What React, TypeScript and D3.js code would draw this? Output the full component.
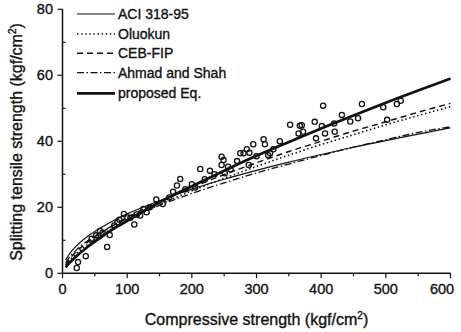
import React from "react";
import * as d3 from "d3";

// Curve sample abscissas (kgf/cm2)
const curveX = [5, 10, 20, 40, 60, 80, 100, 150, 200, 250, 300, 350, 400, 450, 500, 550, 600];
const aciY = [4.0, 5.7, 8.0, 11.4, 13.9, 16.1, 18.0, 22.0, 25.5, 28.5, 31.2, 33.7, 36.0, 38.2, 40.2, 42.2, 44.1];
const oluokunY = [2.4, 3.7, 5.7, 8.9, 11.6, 13.9, 16.0, 20.8, 25.0, 28.8, 32.4, 35.8, 39.0, 42.0, 45.0, 47.8, 50.5];
const cebY = [2.6, 4.1, 6.3, 9.6, 12.3, 14.7, 16.9, 21.8, 26.0, 29.9, 33.5, 36.9, 40.0, 43.1, 45.9, 48.8, 51.5];
const ahmadY = [3.2, 4.7, 6.8, 10.0, 12.5, 14.7, 16.6, 20.6, 24.2, 27.4, 30.4, 33.1, 35.7, 38.2, 40.5, 42.7, 44.4];
const proposedY = [1.8, 3.0, 4.9, 8.2, 11.0, 13.6, 15.9, 21.5, 26.4, 31.1, 35.6, 39.8, 43.9, 47.8, 51.7, 55.4, 59.0];

// Test data (compressive, splitting tensile)
const dataFc = [22, 24, 36, 69, 73, 62, 52, 45, 58, 80, 85, 88, 95, 100, 105, 111, 115, 120, 125, 130, 135,
  145, 155, 165, 171, 177, 182, 190, 200, 205, 213, 220, 228, 235, 246, 246, 249, 251, 256, 260, 270, 275, 280,
  285, 288, 289, 295, 300, 311, 313, 318, 321, 326, 336, 352, 365, 367, 370, 372, 390, 392, 401, 403, 406, 420,
  421, 432, 445, 457, 463, 496, 502, 517, 523];
const dataFsp = [1.6, 3.4, 5.2, 8.0, 11.6, 12.3, 11.5, 10.5, 12.8, 14.5, 15.5, 16.2, 18.0, 17.0, 16.8, 14.8, 17.8, 17.5, 19.5, 18.5, 20.0,
  22.4, 21.0, 23.0, 24.7, 26.6, 28.6, 25.5, 27.0, 26.0, 31.6, 28.5, 31.1, 30.0, 35.3, 32.8, 34.3, 30.3, 32.3, 31.5, 34.0, 36.4, 36.4,
  37.6, 32.8, 36.5, 39.1, 35.5, 40.6, 39.1, 35.8, 36.4, 37.6, 40.0, 45.0, 42.4, 44.7, 44.9, 42.9, 45.9, 40.9, 44.6, 50.8, 42.4, 45.4,
  42.9, 48.0, 46.0, 47.0, 51.3, 50.3, 46.5, 51.3, 52.3];

const xTicks = [0, 100, 200, 300, 400, 500, 600];
const xMinor = [50, 150, 250, 350, 450, 550];
const yTicks = [0, 20, 40, 60, 80];
const yMinor = [10, 30, 50, 70];

const legendLabels = ["ACI 318-95", "Oluokun", "CEB-FIP", "Ahmad and Shah", "proposed Eq."];

const FONT = "'Liberation Sans', Arial, Helvetica, sans-serif";
const TXT = { fontFamily: FONT, fill: "#111", stroke: "#111", strokeWidth: 0.35 };

type Style = { width: number; dash?: string };
const styles: Style[] = [
  { width: 1.2 },
  { width: 1.6, dash: "1.5 2.6" },
  { width: 1.5, dash: "6 4" },
  { width: 1.3, dash: "7 2.5 1.5 2.5" },
  { width: 2.8 },
];

export default function App() {
  const W = 461, H = 332;
  const x = d3.scaleLinear().domain([0, 600]).range([62.5, 450.5]);
  const y = d3.scaleLinear().domain([0, 80]).range([273.3, 9.3]);
  const series = [aciY, oluokunY, cebY, ahmadY, proposedY];
  const line = d3
    .line<number>()
    .x((_, i) => x(curveX[i]))
    .y((d) => y(d))
    .curve(d3.curveMonotoneX);

  const legendRows = [14, 34, 53.3, 72.7, 93.3];

  return (
    <svg width={W} height={H} style={{ position: "absolute", left: 0, top: 0, background: "#fff" }}>
      <rect width={W} height={H} fill="#fff" />
      {series.map((s, i) => (
        <path
          key={i}
          d={line(s) || ""}
          fill="none"
          stroke="#111"
          strokeWidth={styles[i].width}
          strokeDasharray={styles[i].dash}
        />
      ))}
      {dataFc.map((fc, i) => (
        <circle key={i} cx={x(fc)} cy={y(dataFsp[i])} r={2.6} fill="none" stroke="#111" strokeWidth={1.3} />
      ))}
      <line x1={x(0)} x2={x(600)} y1={y(0)} y2={y(0)} stroke="#111" strokeWidth={1.5} />
      <line x1={x(0)} x2={x(0)} y1={y(0) + 1} y2={y(80)} stroke="#111" strokeWidth={1.5} />
      {xTicks.map((t) => (
        <g key={t}>
          <line x1={x(t)} x2={x(t)} y1={y(0)} y2={y(0) + 5} stroke="#111" strokeWidth={1.2} />
          <text x={Math.min(x(t), 442)} y={294} textAnchor="middle" fontSize={14.5} {...TXT}>
            {t}
          </text>
        </g>
      ))}
      {xMinor.map((t) => (
        <line key={t} x1={x(t)} x2={x(t)} y1={y(0)} y2={y(0) + 3} stroke="#111" strokeWidth={1.2} />
      ))}
      {yTicks.map((t) => (
        <g key={t}>
          <line x1={x(0) - 5} x2={x(0)} y1={y(t)} y2={y(t)} stroke="#111" strokeWidth={1.2} />
          <text x={53} y={y(t) + 5} textAnchor="end" fontSize={14.5} {...TXT}>
            {t}
          </text>
        </g>
      ))}
      {yMinor.map((t) => (
        <line key={t} x1={x(0)} x2={x(0) + 3} y1={y(t)} y2={y(t)} stroke="#111" strokeWidth={1.2} />
      ))}
      <text x={256.5} y={325} textAnchor="middle" fontSize={16} {...TXT}>
        Compressive strength (kgf/cm<tspan dy={-6} fontSize={10}>2</tspan>
        <tspan dy={6}>)</tspan>
      </text>
      <text transform="translate(21.5,142) rotate(-90)" textAnchor="middle" fontSize={16} {...TXT}>
        Splitting tensile strength (kgf/cm<tspan dy={-6} fontSize={10}>2</tspan>
        <tspan dy={6}>)</tspan>
      </text>
      {legendLabels.map((lab, i) => (
        <g key={lab}>
          <line
            x1={77}
            x2={115}
            y1={legendRows[i]}
            y2={legendRows[i]}
            stroke="#111"
            strokeWidth={styles[i].width}
            strokeDasharray={styles[i].dash}
          />
          <text x={118} y={legendRows[i] + 5} fontSize={14} {...TXT}>
            {lab}
          </text>
        </g>
      ))}
    </svg>
  );
}
